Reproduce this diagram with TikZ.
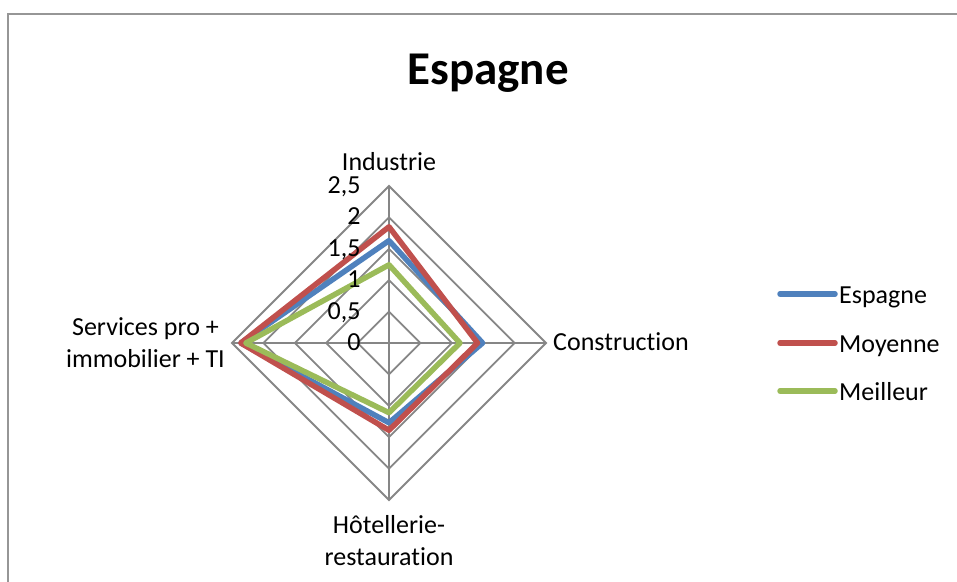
\documentclass[tikz,border=0pt]{standalone}
\usepackage{fontspec}
\setmainfont{Carlito}[Ligatures={NoCommon,NoRequired,NoContextual}, Contextuals=NoAlternate]
\definecolor{gridgray}{RGB}{134,134,134}
\definecolor{framegray}{RGB}{150,150,150}
\definecolor{espblue}{RGB}{79,129,189}
\definecolor{moyred}{RGB}{192,80,77}
\definecolor{meilgreen}{RGB}{155,187,89}
\tikzset{
	lbl/.style={font=\fontsize{26}{32}\selectfont, inner sep=0pt},
	gridline/.style={gridgray, line width=1.8pt},
	series/.style={line width=5.5pt, line join=round},
	keyline/.style={line width=5.5pt, line cap=round}
}

\begin{document}
\begin{tikzpicture}[x=1pt, y=-1pt]
		\useasboundingbox (0, 0) rectangle (957, 581);
		\clip (0, 0) rectangle (957, 581);
		\draw[framegray, line width=2pt] (8, 13.5) rectangle (990, 600);
		\node[lbl, font=\fontsize{47}{56}\selectfont\bfseries, anchor=base] (title) at (488, 84) {Espagne};
		\begin{scope}[shift={(389, 343)}, x=62.8pt, y=62.8pt]
			\foreach \r in {0.5, 1, ..., 2.5}
				\draw[gridline] (90:\r) -- (0:\r) -- (270:\r) -- (180:\r) -- cycle;
			\foreach \a in {0, 90, 180, 270}
				\draw[gridline] (0, 0) -- (\a:2.5);
			\draw[series, espblue] (90:1.63) -- (0:1.49) -- (270:1.27) -- (180:2.36) -- cycle;
			\draw[series, moyred] (90:1.85) -- (0:1.41) -- (270:1.39) -- (180:2.36) -- cycle;
			\draw[series, meilgreen] (90:1.245) -- (0:1.13) -- (270:1.11) -- (180:2.28) -- cycle;
			\foreach \v/\t [count=\k] in {0/0, 0.5/{0,5}, 1/1, 1.5/{1,5}, 2/2, 2.5/{2,5}}
				\node[lbl, anchor=base east] (tick\k) at (-0.45, \v - 0.12) {\t};
		\end{scope}
		\node[lbl, anchor=base] (industrie) at (389, 170) {Industrie};
		\node[lbl, anchor=base west] (construction) at (553, 350) {Construction};
		\node[lbl, anchor=north, align=center] (hotellerie) at (389, 515) {Hôtellerie-\\restauration};
		\node[lbl, anchor=east, align=center] (services) at (225, 343) {Services pro +\\immobilier + TI};
		\foreach \s/\c/\y in {Espagne/espblue/294, Moyenne/moyred/343, Meilleur/meilgreen/391}
			{
				\draw[keyline, \c] (780, \y) -- (835, \y);
				\node[lbl, anchor=base west] (key\s) at (839, \y + 9) {\s};
			}
	\end{tikzpicture}
\end{document}
